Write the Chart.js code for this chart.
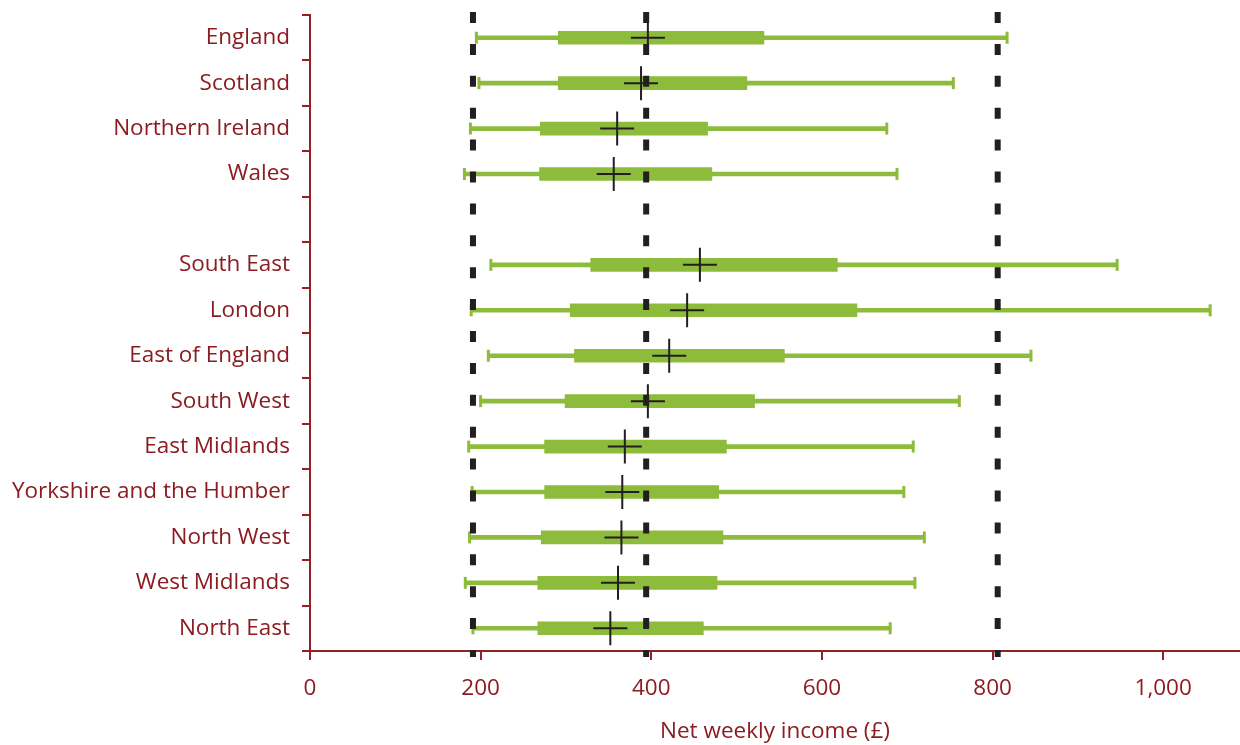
<!DOCTYPE html>
<html>
<head>
<meta charset="utf-8">
<script src="https://cdn.jsdelivr.net/npm/chart.js@4.4.1/dist/chart.umd.min.js"></script>
<style>
  html, body { margin: 0; padding: 0; background: #ffffff; }
  #wrap { width: 1240px; height: 745px; }
</style>
</head>
<body>
<div id="wrap"><canvas id="income-chart" width="1240" height="745"></canvas></div>
<script>
// regions, top to bottom (blank row separates nations from English regions)
const regions = [
    'England', 'Scotland', 'Northern Ireland', 'Wales', '',
    'South East', 'London', 'East of England', 'South West', 'East Midlands',
    'Yorkshire and the Humber', 'North West', 'West Midlands', 'North East'
];

// net weekly income (£)
const lowerEnd    = [195, 198, 188, 181, null, 212, 189, 209, 200, 186, 190, 187, 182, 191];
const lowerQuart  = [291, 291, 270, 269, null, 329, 305, 310, 299, 275, 275, 271, 267, 267];
const medians     = [396, 388, 360, 356, null, 457, 442, 421, 396, 369, 366, 365, 361, 352];
const upperQuart  = [532, 512, 466, 471, null, 618, 641, 556, 521, 488, 479, 484, 477, 461];
const upperEnd    = [817, 754, 676, 688, null, 946, 1055, 845, 761, 707, 696, 720, 709, 680];

// UK-wide reference lines (dashed)
const ukLines = [191, 394, 806];

const axisRed = '#922125';
const textRed = '#8c1c21';
const green = '#8dbb3b';
const ink = '#231f20';
const font = { family: '"Open Sans", "DejaVu Sans", sans-serif', size: 22.5 };

const ranges = (lo, hi) => lo.map((v, i) => v == null ? null : [v, hi[i]]);
const points = (vals) => vals
    .map((v, i) => v == null ? null : { x: v, y: regions[i] })
    .filter(p => p !== null);

const dashedLines = {
    id: 'dashedLines',
    afterDatasetsDraw(chart) {
        const ctx = chart.ctx;
        const x = chart.scales.x;
        ctx.save();
        ctx.strokeStyle = ink;
        ctx.lineWidth = 6;
        ctx.setLineDash([11, 20.9]);
        ukLines.forEach(v => {
            const px = x.getPixelForValue(v);
            ctx.beginPath();
            ctx.moveTo(px, 12);
            ctx.lineTo(px, 657);
            ctx.stroke();
        });
        ctx.restore();
    }
};

new Chart(document.getElementById('income-chart'), {
    type: 'bar',
    plugins: [dashedLines],
    data: {
        labels: regions,
        datasets: [
            {
                type: 'line',
                label: 'median',
                data: points(medians),
                showLine: false,
                pointStyle: 'cross',
                pointRadius: 17,
                pointBorderWidth: 2,
                pointBorderColor: ink,
                order: 0
            },
            {
                type: 'line',
                label: 'caps',
                data: points(lowerEnd).concat(points(upperEnd)),
                showLine: false,
                pointStyle: 'line',
                pointRotation: 90,
                pointRadius: 6,
                pointBorderWidth: 3,
                pointBorderColor: green,
                order: 1
            },
            {
                label: 'interquartile',
                data: ranges(lowerQuart, upperQuart),
                backgroundColor: green,
                barThickness: 13,
                grouped: false,
                order: 2
            },
            {
                label: 'range',
                data: ranges(lowerEnd, upperEnd),
                backgroundColor: green,
                barThickness: 4,
                grouped: false,
                order: 3
            }
        ]
    },
    options: {
        responsive: false,
        animation: false,
        indexAxis: 'y',
        layout: {
            autoPadding: false,
            padding: { top: 15, right: 0, bottom: 0, left: 0 }
        },
        plugins: {
            legend: { display: false },
            tooltip: { enabled: false }
        },
        scales: {
            x: {
                type: 'linear',
                position: 'bottom',
                min: 0,
                max: 1090,
                ticks: {
                    stepSize: 200,
                    includeBounds: false,
                    color: textRed,
                    font: font,
                    padding: 15
                },
                grid: {
                    drawOnChartArea: false,
                    drawTicks: true,
                    tickLength: 9,
                    color: axisRed,
                    lineWidth: 2
                },
                border: { color: axisRed, width: 2 },
                title: {
                    display: true,
                    text: 'Net weekly income (£)',
                    color: textRed,
                    font: font,
                    padding: { top: 0, bottom: 0 }
                },
                afterFit(scale) {
                    scale.height = 94;
                    scale.paddingLeft = 0;
                    scale.paddingRight = 0;
                }
            },
            y: {
                type: 'category',
                offset: true,
                grid: {
                    offset: true,
                    drawOnChartArea: false,
                    tickLength: 8,
                    color: axisRed,
                    lineWidth: 2
                },
                border: { color: axisRed, width: 2 },
                ticks: {
                    color: textRed,
                    font: font,
                    padding: 12,
                    autoSkip: false
                },
                afterFit(scale) {
                    scale.width = 310;
                    scale.paddingTop = 0;
                    scale.paddingBottom = 0;
                }
            }
        }
    }
});
</script>
</body>
</html>
